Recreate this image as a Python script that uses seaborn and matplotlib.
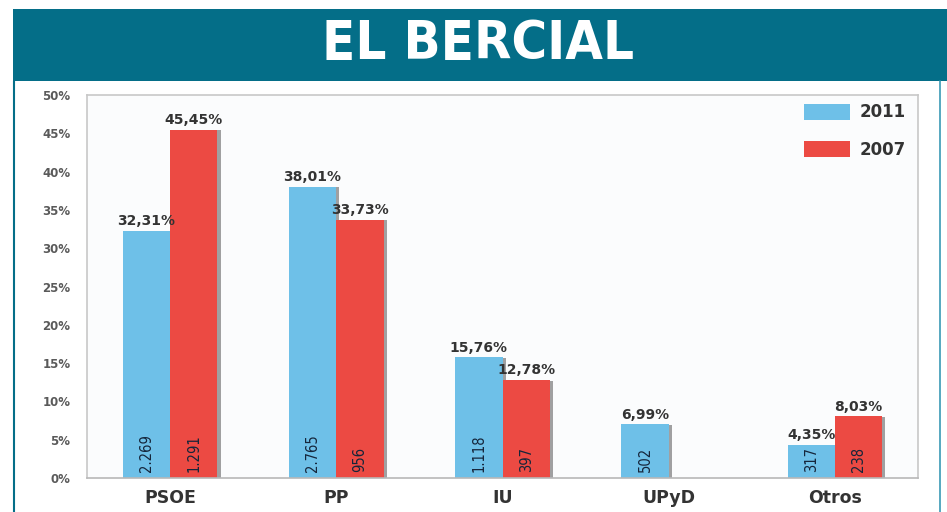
import matplotlib
matplotlib.use("Agg")
import matplotlib.pyplot as plt
import matplotlib.patheffects as pe
from matplotlib.patches import Rectangle
from matplotlib.lines import Line2D
import seaborn as sns
import pandas as pd
import numpy as np

# ---- data ----
parties = ["PSOE", "PP", "IU", "UPyD", "Otros"]
years = ["2011", "2007"]
pct_2011 = [32.31, 38.01, 15.76, 6.99, 4.35]
pct_2007 = [45.45, 33.73, 12.78, np.nan, 8.03]
votes_2011 = [2269, 2765, 1118, 502, 317]
votes_2007 = [1291, 956, 397, np.nan, 238]
y_ticks = [0, 5, 10, 15, 20, 25, 30, 35, 40, 45, 50]
title = "EL BERCIAL"

colors = {"2011": "#6ec0e8", "2007": "#ec4a43"}
teal = "#046e88"

df = pd.DataFrame({
    "party": parties * 2,
    "year": ["2011"] * 5 + ["2007"] * 5,
    "pct": pct_2011 + pct_2007,
    "votes": votes_2011 + votes_2007,
})

sns.set_theme(style="white")
plt.rcParams["font.family"] = ["DejaVu Sans"]

W, H = 947, 512
fig = plt.figure(figsize=(W / 100, H / 100), dpi=100)
fig.patch.set_facecolor("white")

# header bar and panel borders
fig.patches.append(Rectangle((13 / W, 1 - 81 / H), 1 - 13 / W, 72 / H,
                             transform=fig.transFigure, facecolor=teal,
                             edgecolor="none", zorder=0))
fig.lines.append(Line2D([13.5 / W, 13.5 / W], [0, 1 - 81 / H], transform=fig.transFigure,
                        color=teal, lw=1.5))
fig.lines.append(Line2D([940 / W, 940 / W], [0, 1 - 81 / H], transform=fig.transFigure,
                        color="#3a9ab5", lw=1.2))
fig.text(478 / W, 1 - 44 / H, title, color="white", fontsize=39, fontweight="bold",
         fontstretch="condensed", family="DejaVu Sans", ha="center", va="center")

left, right, top, bottom = 87, 918, 95, 478
ax = fig.add_axes([left / W, 1 - bottom / H, (right - left) / W, (bottom - top) / H])
ax.set_facecolor("#fbfcfd")

sns.barplot(data=df, x="party", y="pct", hue="year", order=parties, hue_order=years,
            palette=colors, width=0.57, gap=0, saturation=1, ax=ax, legend=True,
            errorbar=None, edgecolor="none", linewidth=0)

ax.set_xlim(-0.5, 4.5)
ax.set_ylim(0, 50)
ax.set_yticks(y_ticks)
ax.set_yticklabels([f"{t}%" for t in y_ticks], fontsize=8.5, fontweight="bold", color="#5a5a5a")
ax.tick_params(axis="y", length=0, pad=12)
ax.tick_params(axis="x", length=0, pad=8)
for lbl in ax.get_xticklabels():
    lbl.set_fontsize(12.5)
    lbl.set_fontweight("bold")
    lbl.set_color("#333333")
ax.set_xlabel("")
ax.set_ylabel("")
for s in ax.spines.values():
    s.set_color("#c8c8c8")
    s.set_linewidth(1.2)
ax.spines["bottom"].set_color("#b8b8b8")

shadow = [pe.SimplePatchShadow(offset=(2.2, -0.3), shadow_rgbFace="#7a7a7a", alpha=0.7),
          pe.Normal()]

vote_lookup = {("2011", i): v for i, v in enumerate(votes_2011)}
vote_lookup.update({("2007", i): v for i, v in enumerate(votes_2007)})

for year, cont in zip(years, ax.containers):
    for p in cont.patches:
        h = p.get_height()
        if not np.isfinite(h) or h == 0:
            continue
        p.set_path_effects(shadow)
        xc = p.get_x() + p.get_width() / 2
        idx = int(round(xc))
        ax.annotate(f"{h:.2f}".replace(".", ",") + "%", (xc, h), xytext=(0, 2),
                    textcoords="offset points", ha="center", va="bottom",
                    fontsize=10, fontweight="bold", color="#333333")
        v = vote_lookup[(year, idx)]
        txt = f"{int(v):,}".replace(",", ".")
        ax.annotate(txt, (xc, 0), xytext=(0, 4), textcoords="offset points",
                    ha="center", va="bottom", rotation=90, fontsize=10.5,
                    fontstretch="condensed", family="DejaVu Sans", color="#15253a")

leg = ax.legend(loc="upper right", bbox_to_anchor=(0.985, 0.978), frameon=False,
                fontsize=12, handlelength=2.75, handleheight=1.1, handletextpad=0.55,
                labelspacing=1.15, borderpad=0, borderaxespad=0)
for t in leg.get_texts():
    t.set_fontweight("bold")
    t.set_color("#333333")

fig.savefig("out.png", dpi=100)
